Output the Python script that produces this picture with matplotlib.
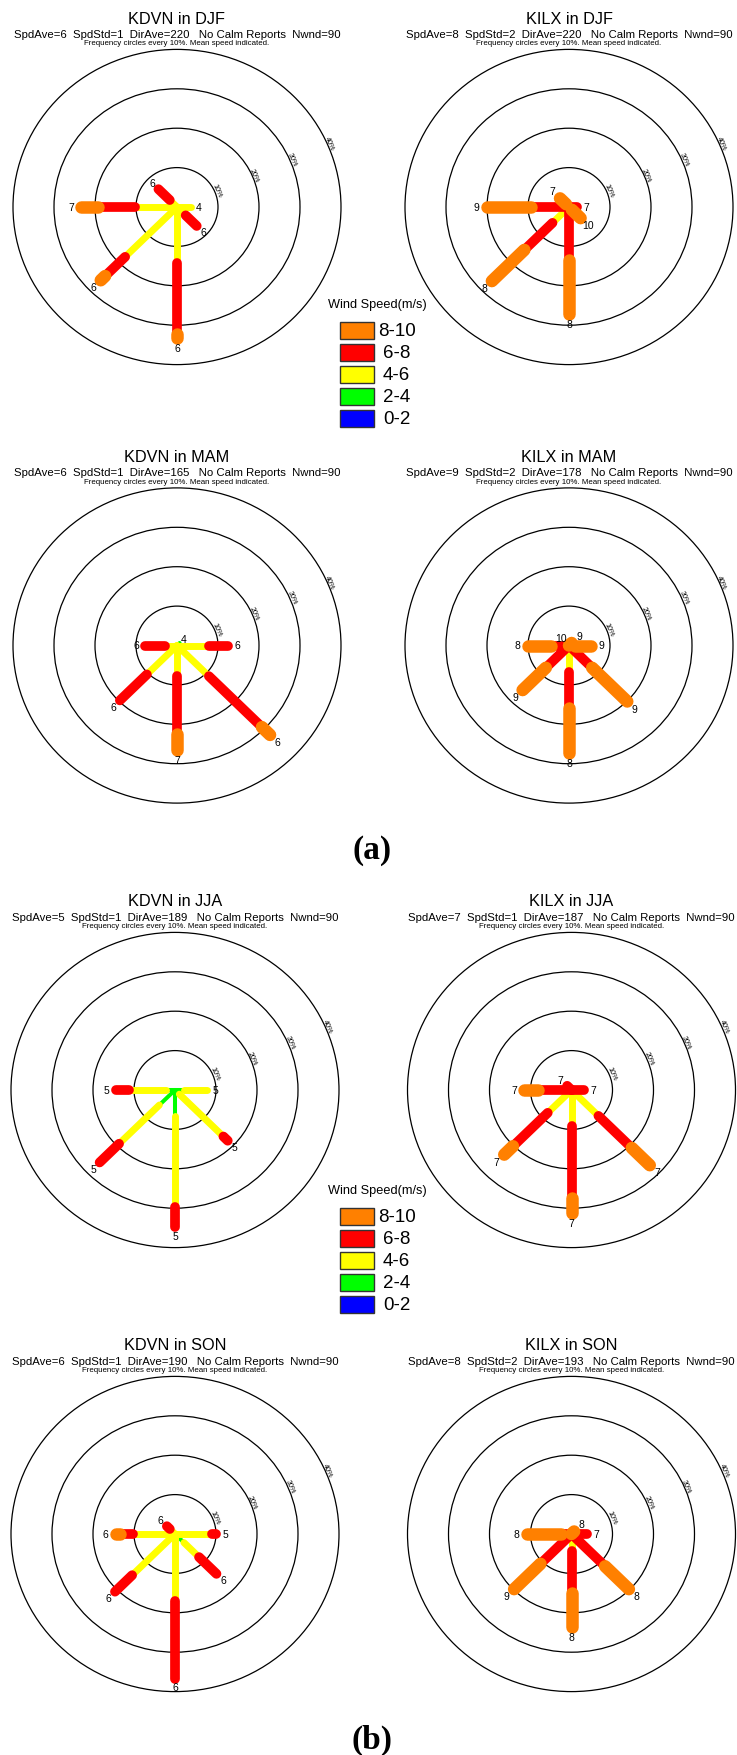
import numpy as np
import matplotlib
matplotlib.use('Agg')
from matplotlib import pyplot as plt
from matplotlib.patches import Circle, Rectangle

plt.rcParams['font.family'] = ['Liberation Sans', 'DejaVu Sans']

# petals clockwise from north
directions = ['N', 'NE', 'E', 'SE', 'S', 'SW', 'W', 'NW']
speed_bins = ['0-2', '2-4', '4-6', '6-8', '8-10']
bin_colors = ['#0000ff', '#00ff00', '#ffff00', '#ff0000', '#ff8000']
bin_widths = [2.0, 2.9, 5.0, 7.0, 9.0]   # petal thickness per speed bin (pt)

# frequency (%) of each speed bin (0-2 .. 8-10) for N, NE, E, SE, S, SW, W, NW
kdvn_djf = [[0, 0, 0, 0, 0], [0, 0, 0, 0, 0], [0, 0, 3.3, 0, 0], [0, 1.2, 1.8, 3.8, 0],
            [0, 0, 14.1, 18.1, 1.0], [0, 0, 17.9, 6.9, 1.5], [0, 0, 10.3, 8.9, 4.1], [0, 0, 2.5, 3.9, 0]]
kilx_djf = [[0, 0, 0, 0, 0], [0, 0, 0, 0, 0], [0, 0, 0, 2.0, 0], [0, 0, 0, 1.0, 3.0],
            [0, 0, 0, 13.4, 13.8], [0, 0, 5.7, 9.7, 11.2], [0, 0, 0, 9.3, 10.8], [0, 0, 0, 1.0, 2.1]]
kdvn_mam = [[0, 0, 0, 0, 0], [0, 0.9, 0, 0, 0], [0, 0, 7.7, 4.7, 0], [0, 0, 11.0, 18.3, 2.8],
            [0, 0, 7.8, 14.7, 3.9], [0, 0, 10.4, 9.3, 0], [0, 0, 3.0, 4.8, 0], [0, 0, 0, 0, 0]]
kilx_mam = [[0, 0, 0, 0, 0], [0, 0, 0, 0, 0.9], [0, 0, 0, 1.5, 3.9], [0, 0, 0, 8.0, 12.1],
            [0, 0, 6.7, 9.2, 11.4], [0, 0, 0, 8.0, 8.0], [0, 0, 0, 4.4, 5.5], [0, 0, 0, 0.4, 0]]
kdvn_jja = [[0, 0, 0, 0, 0], [0, 0, 0, 0, 0], [0, 2.2, 5.7, 0, 0], [0, 1.5, 15.2, 1.5, 0],
            [0, 6.7, 22.9, 5.2, 0], [0, 5.4, 13.9, 6.7, 0], [0, 2.2, 9.0, 3.2, 0], [0, 0, 0, 0, 0]]
kilx_jja = [[0, 0, 0, 0, 0], [0, 0, 0, 0, 0], [0, 0, 0, 3.1, 0], [0, 0, 9.3, 11.5, 6.2],
            [0, 0, 9.2, 18.1, 3.9], [0, 0, 8.2, 12.0, 3.0], [0, 0, 0, 8.2, 3.3], [0, 0, 0, 1.5, 0]]
kdvn_son = [[0, 0, 0, 0, 0], [0, 0, 0, 0, 0], [0, 0, 9.1, 1.0, 0], [0, 3.1, 5.2, 6.0, 0],
            [0, 0, 17.1, 19.6, 0], [0, 0, 14.8, 5.9, 0], [0, 0, 10.3, 3.2, 0.8], [0, 0, 1.8, 1.0, 0]]
kilx_son = [[0, 0, 0, 0, 0], [0, 0, 0, 0, 0.9], [0, 0, 0, 3.9, 0], [0, 0, 1.0, 10.6, 8.2],
            [0, 0, 4.4, 10.5, 8.8], [0, 0, 1.0, 9.7, 9.1], [0, 0, 0, 2.5, 8.4], [0, 0, 0, 0, 0]]

# mean speed written at the tip of each petal
kdvn_djf_mean = [0, 0, 4, 6, 6, 6, 7, 6]
kilx_djf_mean = [0, 0, 7, 10, 8, 8, 9, 7]
kdvn_mam_mean = [0, 4, 6, 6, 7, 6, 6, 0]
kilx_mam_mean = [0, 9, 9, 9, 8, 9, 8, 10]
kdvn_jja_mean = [0, 0, 5, 5, 5, 5, 5, 0]
kilx_jja_mean = [0, 0, 7, 7, 7, 7, 7, 7]
kdvn_son_mean = [0, 0, 5, 6, 6, 6, 6, 6]
kilx_son_mean = [0, 8, 7, 8, 8, 9, 8, 0]

stations = ['KDVN', 'KILX']
seasons = ['DJF', 'MAM', 'JJA', 'SON']
spd_ave = [[6, 8], [6, 9], [5, 7], [6, 8]]
spd_std = [[1, 2], [1, 2], [1, 1], [1, 2]]
dir_ave = [[220, 220], [165, 178], [189, 187], [190, 193]]
n_wind = 90

freqs = [[kdvn_djf, kilx_djf], [kdvn_mam, kilx_mam], [kdvn_jja, kilx_jja], [kdvn_son, kilx_son]]
means = [[kdvn_djf_mean, kilx_djf_mean], [kdvn_mam_mean, kilx_mam_mean],
         [kdvn_jja_mean, kilx_jja_mean], [kdvn_son_mean, kilx_son_mean]]

W, H = 737, 1756
PX_X, PX_Y = 4.1, 3.94       # pixels per 1 % on the rose axes

fig = plt.figure(figsize=(W / 100, H / 100), dpi=100)


def fpos(x, y):
    return x / W, 1 - y / H


def wind_rose(cx, cy, station, season, freq, mean_spd, ave, std, dave):
    ax = fig.add_axes([(cx - 45 * PX_X) / W, 1 - (cy + 45 * PX_Y) / H,
                       90 * PX_X / W, 90 * PX_Y / H])
    ax.set_xlim(-45, 45)
    ax.set_ylim(-45, 45)
    ax.axis('off')

    # frequency circles every 10%
    ang = np.radians(23.5)
    for k in range(1, 5):
        ax.add_patch(Circle((0, 0), 10 * k, fill=False, lw=0.9, ec='black', zorder=1))
        r = 10 * k + 0.6
        ax.text(r * np.cos(ang), r * np.sin(ang), '%d%%' % (10 * k), fontsize=5.2,
                rotation=-66, ha='center', va='center', rotation_mode='anchor', zorder=2)

    for i, seg in enumerate(freq):
        th = np.radians(45 * i)
        s, c = np.sin(th), np.cos(th)
        ends = np.cumsum(seg)
        starts = ends - np.array(seg)
        last = None
        for j in range(len(seg)):
            if seg[j] <= 0:
                continue
            ax.plot([starts[j] * s, ends[j] * s], [starts[j] * c, ends[j] * c],
                    color=bin_colors[j], lw=bin_widths[j], solid_capstyle='round', zorder=3 + j)
            last = j
        if last is not None:
            rl = ends[-1] + bin_widths[last] * 0.174 + 1.0
            ax.text(rl * s, rl * c, str(mean_spd[i]), fontsize=7.5,
                    ha='center', va='center', zorder=10)

    fig.text(*fpos(cx, cy - 189), '%s in %s' % (station, season), fontsize=11.7,
             ha='center', va='center')
    fig.text(*fpos(cx, cy - 173),
             'SpdAve=%d  SpdStd=%d  DirAve=%d   No Calm Reports  Nwnd=%d' % (ave, std, dave, n_wind),
             fontsize=8.2, ha='center', va='center')
    fig.text(*fpos(cx, cy - 164.5), 'Frequency circles every 10%. Mean speed indicated.',
             fontsize=5.7, ha='center', va='center')


def speed_legend(title_y):
    lx0, lx1 = 330, 430
    ly0, ly1 = title_y - 12, title_y + 130
    ax = fig.add_axes([lx0 / W, 1 - ly1 / H, (lx1 - lx0) / W, (ly1 - ly0) / H])
    ax.set_xlim(lx0, lx1)
    ax.set_ylim(ly1, ly0)
    ax.axis('off')
    ax.text(377.5, title_y, 'Wind Speed(m/s)', fontsize=9.2, ha='center', va='center')
    for k, j in enumerate(range(len(speed_bins) - 1, -1, -1)):
        yc = title_y + 26.5 + 22 * k
        ax.add_patch(Rectangle((340, yc - 8.5), 33.5, 17, fc=bin_colors[j], ec='#333333', lw=1.0))
        ax.text(396.7, yc, speed_bins[j], fontsize=13.5, ha='center', va='center')


col_x = [[177, 569], [177, 569], [175, 571.5], [175, 571.5]]
row_y = [208, 646.5, 1091, 1535]

for r in range(4):
    for c in range(2):
        wind_rose(col_x[r][c], row_y[r], stations[c], seasons[r], freqs[r][c], means[r][c],
                  spd_ave[r][c], spd_std[r][c], dir_ave[r][c])

speed_legend(305)
speed_legend(1190.7)

fig.text(*fpos(371.7, 850.7), '(a)', fontsize=24, fontweight='bold',
         family='Liberation Serif', ha='center', va='center')
fig.text(*fpos(371.7, 1740), '(b)', fontsize=24, fontweight='bold',
         family='Liberation Serif', ha='center', va='center')

fig.savefig('out.png', dpi=100)
